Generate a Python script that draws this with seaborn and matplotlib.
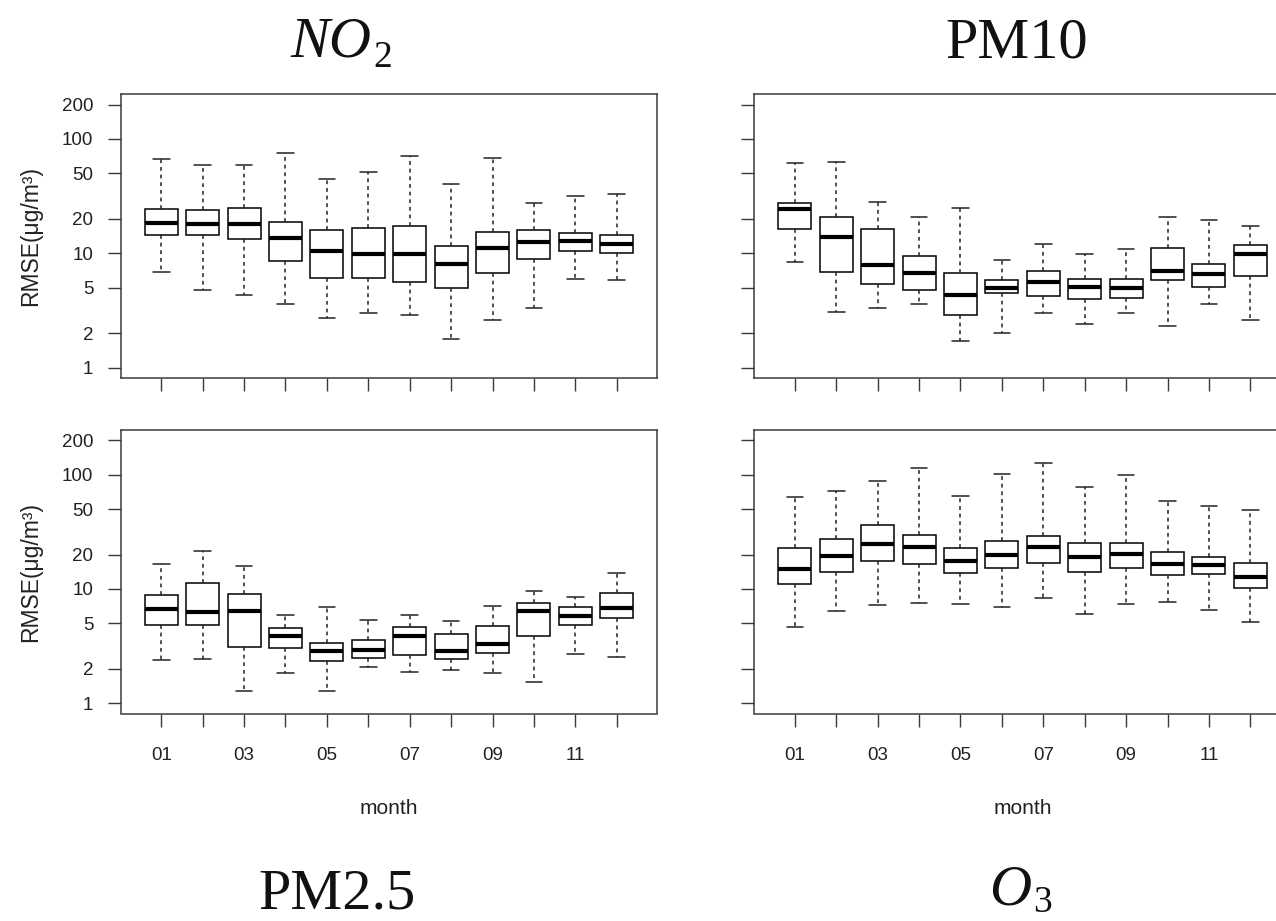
import numpy as np
import pandas as pd
import matplotlib
matplotlib.use("Agg")
import matplotlib.pyplot as plt
from matplotlib.ticker import NullLocator
import seaborn as sns

# ---------------------------------------------------------------------------
# Monthly RMSE distributions (five-number summaries, µg/m³)
# lower whisker, first quartile, median, third quartile, upper whisker
# ---------------------------------------------------------------------------
months = ["01", "02", "03", "04", "05", "06", "07", "08", "09", "10", "11", "12"]
month_labels = ["01", "", "03", "", "05", "", "07", "", "09", "", "11", ""]
y_ticks = [1, 2, 5, 10, 20, 50, 100, 200]

no2_low = [6.9, 4.8, 4.3, 3.6, 2.7, 3.0, 2.9, 1.8, 2.6, 3.3, 6.0, 5.8]
no2_q1 = [14.4, 14.4, 13.4, 8.5, 6.1, 6.1, 5.6, 5.0, 6.8, 9.0, 10.4, 10.0]
no2_med = [18.6, 18.1, 18.1, 13.5, 10.5, 9.9, 9.8, 8.0, 11.1, 12.6, 12.8, 12.0]
no2_q3 = [24.3, 23.8, 25.0, 18.8, 16.0, 16.7, 17.3, 11.7, 15.5, 15.9, 15.2, 14.4]
no2_high = [67.0, 59.0, 59.0, 76.0, 45.0, 51.0, 71.0, 40.0, 68.0, 27.5, 32.0, 33.0]

pm10_low = [8.4, 3.1, 3.3, 3.6, 1.7, 2.0, 3.0, 2.4, 3.0, 2.3, 3.6, 2.6]
pm10_q1 = [16.2, 6.9, 5.4, 4.8, 2.9, 4.5, 4.2, 4.0, 4.1, 5.9, 5.1, 6.4]
pm10_med = [24.5, 14.0, 7.9, 6.7, 4.3, 5.0, 5.6, 5.1, 5.0, 7.0, 6.6, 9.9]
pm10_q3 = [27.3, 20.8, 16.3, 9.5, 6.8, 5.8, 7.0, 6.0, 6.0, 11.2, 8.0, 11.9]
pm10_high = [62.0, 63.0, 28.0, 20.6, 24.8, 8.8, 12.1, 9.9, 10.9, 20.6, 19.5, 17.3]

pm25_low = [2.4, 2.45, 1.28, 1.85, 1.28, 2.05, 1.87, 1.93, 1.85, 1.52, 2.7, 2.53]
pm25_q1 = [4.83, 4.8, 3.08, 3.02, 2.35, 2.5, 2.65, 2.43, 2.76, 3.84, 4.87, 5.53]
pm25_med = [6.72, 6.24, 6.41, 3.9, 2.84, 2.94, 3.9, 2.84, 3.31, 6.37, 5.83, 6.86]
pm25_q3 = [8.9, 11.3, 9.1, 4.58, 3.38, 3.6, 4.67, 4.03, 4.77, 7.54, 6.95, 9.29]
pm25_high = [16.5, 21.3, 15.8, 5.96, 7.0, 5.35, 5.87, 5.28, 7.05, 9.67, 8.45, 13.7]

o3_low = [4.65, 6.46, 7.29, 7.59, 7.44, 6.92, 8.28, 6.0, 7.44, 7.64, 6.55, 5.11]
o3_q1 = [11.0, 14.2, 17.6, 16.6, 13.7, 15.2, 16.8, 14.1, 15.2, 13.3, 13.6, 10.2]
o3_med = [15.0, 19.3, 24.8, 23.3, 17.7, 19.9, 23.3, 18.9, 20.1, 16.7, 16.1, 12.8]
o3_q3 = [23.0, 27.5, 36.1, 29.7, 22.7, 26.1, 28.9, 25.4, 25.4, 20.9, 18.9, 16.8]
o3_high = [63.4, 72.0, 88.6, 114.0, 65.1, 102.0, 128.0, 77.5, 98.7, 58.9, 52.9, 49.4]


def summary_frame(low, q1, med, q3, high):
    """Five sorted values per month: their quartiles and extremes are the summary."""
    rows = []
    for m, vals in zip(months, zip(low, q1, med, q3, high)):
        for v in vals:
            rows.append({"month": m, "rmse": v})
    return pd.DataFrame(rows)


sns.set_theme(style="ticks")
plt.rcParams["font.family"] = ["Liberation Sans", "DejaVu Sans"]

W, H = 1276, 921
fig = plt.figure(figsize=(W / 100, H / 100), dpi=100)
fig.patch.set_facecolor("white")

ink = "#222222"
spine_col = "#3a3a3a"

# panel boxes in pixels: (left, right) and (top, bottom)
left_x, right_x = (120.7, 657.3), (754.3, 1290.9)
top_y, bot_y = (94.0, 378.3), (430.0, 713.5)

panels = [
    (summary_frame(no2_low, no2_q1, no2_med, no2_q3, no2_high), left_x, top_y, True, False),
    (summary_frame(pm10_low, pm10_q1, pm10_med, pm10_q3, pm10_high), right_x, top_y, False, False),
    (summary_frame(pm25_low, pm25_q1, pm25_med, pm25_q3, pm25_high), left_x, bot_y, True, True),
    (summary_frame(o3_low, o3_q1, o3_med, o3_q3, o3_high), right_x, bot_y, False, True),
]

for df, (x0, x1), (y0, y1), show_y, show_x in panels:
    ax = fig.add_axes([x0 / W, 1 - y1 / H, (x1 - x0) / W, (y1 - y0) / H])
    sns.boxplot(
        data=df, x="month", y="rmse", order=months, ax=ax,
        whis=(0, 100), width=0.8, color="white", linecolor="black",
        saturation=1, linewidth=1.1, fliersize=0, log_scale=True,
        medianprops=dict(linewidth=3.0, color="black"),
        whiskerprops=dict(linestyle=(0, (2.5, 2.5)), linewidth=1.1, color="#222222"),
        capprops=dict(linewidth=1.1, color="#222222"),
    )
    ax.set_yscale("log")
    ax.set_ylim(10 ** -0.092, 10 ** 2.393)
    ax.set_xlim(-0.98, 11.98)
    ax.set_yticks(y_ticks)
    ax.yaxis.set_minor_locator(NullLocator())
    ax.set_xticks(range(len(months)))
    ax.set_yticklabels([str(t) for t in y_ticks] if show_y else [""] * len(y_ticks))
    ax.set_xticklabels(month_labels if show_x else [""] * len(months))
    ax.tick_params(axis="both", which="major", direction="out", length=9.7,
                   width=1.0, color=spine_col, labelsize=13.5, labelcolor=ink)
    ax.tick_params(axis="y", pad=10)
    ax.tick_params(axis="x", pad=14.5)
    ax.set_ylabel("")
    if show_x:
        ax.set_xlabel("month", fontsize=15, color=ink)
        ax.xaxis.set_label_coords(0.5, -0.30)
    else:
        ax.set_xlabel("")
    for s in ax.spines.values():
        s.set_visible(True)
        s.set_color(spine_col)
        s.set_linewidth(1.1)
    ax.set_facecolor("white")

    if show_y:
        fig.text(30.5 / W, 1 - (y0 + y1) / 2 / H, "RMSE(μg/m³)", rotation=90,
                 ha="center", va="center", fontsize=16.5, color=ink)

# pollutant titles: serif letters, chemical formulas with an upright subscript
serif = "Liberation Serif"
title_col = "#111111"
big, small = 42, 27


def formula(x_join, base_y, letters, sub, drop=10):
    fig.text(x_join / W, 1 - base_y / H, letters, family=serif, style="italic",
             fontsize=big, color=title_col, ha="right", va="baseline")
    fig.text((x_join + 2) / W, 1 - (base_y + drop) / H, sub, family=serif,
             fontsize=small, color=title_col, ha="left", va="baseline")


formula(371, 56.7, "NO", "2")
formula(1031, 904, "O", "3", drop=8)
fig.text(1017 / W, 1 - 57.3 / H, "PM10", family=serif, fontsize=big,
         color=title_col, ha="center", va="baseline")
fig.text(337 / W, 1 - 908 / H, "PM2.5", family=serif, fontsize=big,
         color=title_col, ha="center", va="baseline")

fig.savefig("out.png", dpi=100, facecolor="white")
